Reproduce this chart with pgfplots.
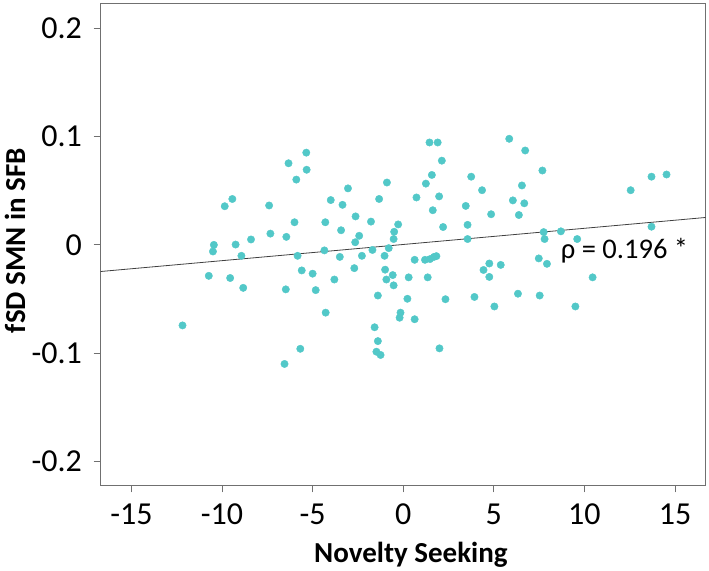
\documentclass[border=0pt]{standalone}
\usepackage{fontspec}
\setmainfont{Carlito}
\usepackage{pgfplots}
\usepackage{pgfplotstable}
\pgfplotsset{compat=1.18}
\definecolor{dotcol}{HTML}{52C8C8}
\definecolor{framecol}{HTML}{707070}

% novelty seeking vs fSD SMN in SFB
\pgfplotstableread{
x y
-12.18 -0.0744
-10.73 -0.0286
-10.50 -0.0061
-10.45 0.0000
-9.85 0.0357
-9.43 0.0424
-9.55 -0.0306
-9.25 0.0003
-8.93 -0.0101
-8.83 -0.0397
-8.40 0.0050
-7.40 0.0364
-7.33 0.0104
-6.55 -0.1100
-6.48 -0.0411
-6.45 0.0074
-6.33 0.0754
-6.00 0.0209
-5.90 0.0603
-5.83 -0.0101
-5.68 -0.0960
-5.60 -0.0236
-5.35 0.0852
-5.33 0.0694
-5.00 -0.0266
-4.83 -0.0418
-4.35 -0.0051
-4.30 0.0209
-4.28 -0.0626
-4.00 0.0414
-3.80 -0.0320
-3.50 -0.0111
-3.43 0.0135
-3.35 0.0370
-3.05 0.0522
-2.70 -0.0215
-2.65 0.0024
-2.63 0.0263
-2.43 0.0084
-2.28 -0.0101
-1.78 0.0215
-1.70 -0.0047
-1.58 -0.0761
-1.40 -0.0468
-1.40 -0.0889
-1.48 -0.0987
-1.25 -0.1017
-1.33 0.0424
-1.03 -0.0101
-1.00 -0.0229
-0.93 -0.0320
-0.90 0.0576
-0.80 -0.0030
-0.58 -0.0279
-0.53 -0.0374
-0.53 0.0054
-0.50 0.0121
-0.28 0.0189
-0.15 -0.0626
-0.20 -0.0673
0.23 -0.0498
0.30 -0.0300
0.63 -0.0687
0.63 -0.0138
0.73 0.0438
1.20 -0.0138
1.25 0.0566
1.35 -0.0300
1.45 0.0946
1.48 -0.0131
1.58 0.0646
1.63 0.0320
1.70 -0.0111
1.83 -0.0104
1.90 0.0946
1.98 0.0448
2.00 -0.0956
2.13 0.0778
2.20 0.0165
2.33 -0.0502
3.45 0.0360
3.55 0.0185
3.55 0.0054
3.75 0.0630
3.93 -0.0481
4.35 0.0505
4.43 -0.0232
4.75 -0.0172
4.75 -0.0296
4.85 0.0283
5.03 -0.0569
5.38 -0.0185
5.85 0.0980
6.05 0.0411
6.33 -0.0451
6.38 0.0276
6.55 0.0549
6.68 0.0384
6.73 0.0872
7.48 -0.0125
7.53 -0.0468
7.68 0.0687
7.75 0.0118
7.80 0.0054
7.93 -0.0175
8.70 0.0125
9.50 -0.0569
9.60 0.0054
10.45 -0.0300
12.55 0.0505
13.70 0.0630
13.70 0.0168
14.53 0.0650
}\scatterdata

\begin{document}
\begin{tikzpicture}
\path[use as bounding box] (-100.6pt,-84.6pt) rectangle (608.4pt,485.4pt);
\begin{axis}[
  at={(0,0)}, anchor=south west,
  width=604.9pt, height=481.8pt, scale only axis,
  xmin=-16.7, xmax=16.68, ymin=-0.2222, ymax=0.2229,
  xtick={-15,-10,-5,0,5,10,15},
  xticklabels={-15,-10,-5,0,5,10,15},
  ytick={-0.2,-0.1,0,0.1,0.2},
  yticklabels={-0.2,-0.1,0,0.1,0.2},
  xtick pos=bottom, ytick pos=left,
  tick align=outside,
  major tick length=7pt,
  axis line style={draw=framecol, line width=1pt},
  every tick/.style={draw=framecol, line width=1pt},
  tick label style={font=\fontsize{32}{34}\selectfont, text=black, inner sep=0pt},
  xticklabel shift=11pt,
  yticklabel shift=11.5pt,
  xlabel={Novelty Seeking},
  ylabel={fSD SMN in SFB},
  every axis x label/.style={at={(axis description cs:0.513,-0.145)}, anchor=center,
    font=\fontsize{29}{31}\selectfont\bfseries},
  every axis y label/.style={at={(axis description cs:-0.1415,0.508)}, rotate=90, anchor=center,
    font=\fontsize{29}{31}\selectfont\bfseries},
  clip=false,
]
\addplot[only marks, mark=*, mark size=3.7pt, color=dotcol,
  mark options={draw=dotcol, fill=dotcol}] table[x=x, y=y] {\scatterdata};
\addplot[black!75, line width=0.8pt] coordinates {(-16.7,-0.0246) (16.68,0.0253)};
\node[anchor=base west, inner sep=0pt, font=\fontsize{28.5}{30}\selectfont] at (axis cs:8.69,-0.0126) {ρ = 0.196 *};
\end{axis}
\end{tikzpicture}
\end{document}
